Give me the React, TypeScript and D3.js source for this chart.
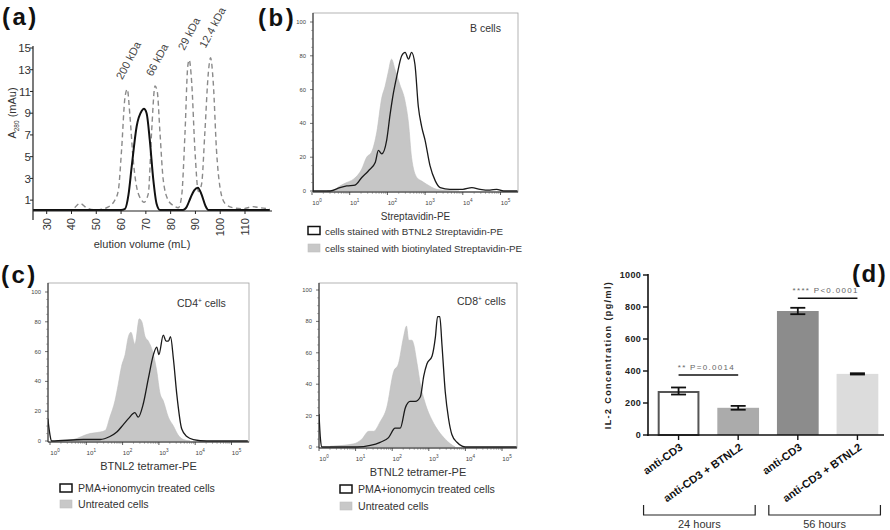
import React from 'react';
import * as d3 from 'd3';

const FONT = 'Arial, "Liberation Sans", Helvetica, sans-serif';

// ---------- (a) size-exclusion chromatogram ----------
const aXTicks = [30, 40, 50, 60, 70, 80, 90, 100, 110];
const aYTicks = [1, 3, 5, 7, 9, 11, 13, 15];
const sampleTrace: [number, number][] = [
  [24.5, 0.1], [40, 0.1], [55, 0.1], [60, 0.1], [61.6, 0.2], [63, 1.5], [64.3, 4.1], [66.3, 7.8],
  [68.3, 9.2], [69.2, 9.4], [70.3, 9.0], [71.6, 6.5], [73, 2.9], [74.3, 0.7], [75.7, 0.1],
  [85, 0.1], [86.5, 0.4], [88, 1.2], [89.5, 1.9], [91, 2.15], [92.5, 1.5], [94, 0.5], [95.2, 0.1], [120, 0.1]
];
const standardsTrace: [number, number][] = [
  [24.5, 0.1], [40, 0.1], [43.4, 0.7], [46.1, 0.3], [50, 0.1], [54.2, 0.3], [57.5, 1.0], [58.9, 1.9],
  [60.2, 5.6], [61.6, 10.5], [62.5, 11.2], [63.6, 8.7], [64.9, 4.7], [66.3, 2.2], [68.3, 1.0], [69.2, 0.8],
  [71, 1.6], [72.3, 7.2], [73.7, 11.5], [74.6, 11.0], [75.7, 7.2], [77, 2.9], [79, 1.0], [81.1, 0.5],
  [83.1, 0.3], [84.4, 1.3], [85.8, 7.2], [86.9, 13.3], [87.5, 13.9], [88.5, 11.8], [89.8, 5.6],
  [91.2, 1.8], [92.5, 2.5], [93.8, 7.2], [95.2, 12.7], [96.1, 14.1], [97.2, 11.8], [98.5, 5.6],
  [99.9, 2.2], [101.9, 0.7], [105.2, 0.3], [109, 0.2], [113.2, 0.4], [116, 0.3], [120, 0.2]
];
const standardLabels = ['200 kDa', '66 kDa', '29 kDa', '12.4 kDa'];
const standardPeakVol = [62.5, 74.6, 87.5, 96.1];
const standardPeakAbs = [11.2, 11.5, 13.9, 14.1];

// ---------- flow cytometry histograms (x: log10 intensity, y: % of max) ----------
const flowDecades = [0, 1, 2, 3, 4, 5];
const flowYTicks = [0, 20, 40, 60, 80, 100];

const bGray: [number, number][] = [
  [0.4, 0], [0.57, 0.5], [0.74, 3], [0.92, 5], [1.1, 7], [1.32, 13], [1.45, 20], [1.58, 23], [1.72, 35],
  [1.85, 55], [1.94, 62], [2.02, 70], [2.11, 78], [2.2, 72], [2.33, 63], [2.47, 53], [2.56, 40],
  [2.64, 20], [2.78, 8], [2.9, 6], [3.04, 4], [3.31, 1], [3.6, 0.3], [3.9, 0]
];
const bBlack: [number, number][] = [
  [0.0, 100], [0.03, 0], [0.48, 0], [0.74, 2], [0.92, 3], [1.14, 3.5], [1.32, 8], [1.5, 12],
  [1.68, 17], [1.76, 24], [1.85, 22], [1.98, 30], [2.07, 45], [2.16, 58], [2.25, 68], [2.38, 80],
  [2.47, 82], [2.56, 78], [2.64, 82], [2.73, 75], [2.82, 50], [2.91, 38], [3.0, 30], [3.13, 15],
  [3.27, 6], [3.4, 2], [3.66, 1], [4.0, 1], [4.24, 2], [4.46, 1], [4.72, 0.5], [4.9, 1], [5.08, 0], [5.45, 0]
];
const cd4Gray: [number, number][] = [
  [0.28, 0], [0.64, 1], [1.1, 5], [1.38, 6], [1.52, 7], [1.65, 16], [1.79, 27], [1.88, 38], [1.97, 50],
  [2.07, 58], [2.16, 70], [2.23, 73], [2.34, 65], [2.46, 82], [2.53, 80], [2.62, 70], [2.71, 67],
  [2.85, 58], [2.94, 47], [3.03, 32], [3.12, 27], [3.26, 16], [3.4, 10], [3.53, 4], [3.67, 1], [3.86, 0]
];
const cd4Black: [number, number][] = [
  [-0.06, 15], [0.0, 4], [0.04, 0], [0.92, 1], [1.38, 1], [1.65, 3], [1.84, 6], [2.02, 11], [2.16, 15],
  [2.34, 19], [2.43, 16], [2.57, 25], [2.71, 42], [2.85, 58], [2.94, 63], [3.0, 58], [3.12, 71],
  [3.2, 67], [3.26, 67], [3.32, 70], [3.4, 55], [3.49, 32], [3.63, 8], [3.77, 3], [3.95, 1], [4.32, 0], [5.45, 0]
];
const cd8Gray: [number, number][] = [
  [0.31, 0.5], [0.95, 2], [1.17, 5], [1.36, 10], [1.49, 10], [1.67, 16], [1.85, 25], [2.04, 48],
  [2.17, 53], [2.31, 70], [2.39, 77], [2.45, 68], [2.54, 68], [2.58, 66], [2.68, 53], [2.77, 40],
  [2.9, 28], [3.09, 17], [3.27, 10], [3.45, 5], [3.59, 2], [3.72, 0]
];
const cd8Black: [number, number][] = [
  [0.0, 21], [0.04, 5], [0.08, 0], [1.04, 0], [1.4, 1], [1.67, 3], [1.9, 6], [2.08, 12], [2.22, 12],
  [2.36, 25], [2.49, 29], [2.63, 29], [2.77, 32], [2.86, 45], [2.95, 53], [3.09, 58], [3.18, 70],
  [3.24, 83], [3.3, 83], [3.36, 65], [3.45, 35], [3.54, 18], [3.63, 8], [3.77, 3], [3.91, 0.5], [4.0, 0], [5.4, 0]
];

// ---------- (d) IL-2 bar chart ----------
const dCategories = ['anti-CD3', 'anti-CD3 + BTNL2', 'anti-CD3', 'anti-CD3 + BTNL2'];
const il2Mean = [275, 170, 775, 382];
const il2Err = [22, 12, 20, 4];
const dYTicks = [0, 200, 400, 600, 800, 1000];
const sigLabels = ['** P=0.0014', '**** P<0.0001'];
const sigLevels = [375, 855];
const groupLabels = ['24 hours', '56 hours'];

const barStyles = [
  { fill: '#ffffff', stroke: '#555555', sw: 2 },
  { fill: '#ababab', stroke: 'none', sw: 0 },
  { fill: '#8c8c8c', stroke: 'none', sw: 0 },
  { fill: '#dcdcdc', stroke: 'none', sw: 0 },
];

type Pt = [number, number];

function PanelA() {
  const x = d3.scaleLinear().domain([30, 110]).range([46.7, 245]);
  const y = d3.scaleLinear().domain([0, 15]).range([211, 48]);
  const line = d3.line<Pt>().x(d => x(d[0])).y(d => y(d[1])).curve(d3.curveMonotoneX);
  return (
    <g>
      <path d={line(standardsTrace) || ''} fill="none" stroke="#8a8a8a" strokeWidth={1.4} strokeDasharray="5,3.5" />
      <path d={line(sampleTrace) || ''} fill="none" stroke="#111" strokeWidth={2} />
      <line x1={33} x2={33} y1={46} y2={220} stroke="#222" strokeWidth={1.2} />
      <line x1={33} x2={272} y1={211} y2={211} stroke="#222" strokeWidth={1.2} />
      {aYTicks.map(t => (
        <g key={t}>
          <line x1={30} x2={33} y1={y(t)} y2={y(t)} stroke="#222" />
          <text x={31} y={y(t)} dy="0.36em" textAnchor="end" fontSize={11.5} fill="#333">{t}</text>
        </g>
      ))}
      {aXTicks.map(t => (
        <g key={t}>
          <line x1={x(t)} x2={x(t)} y1={211} y2={214} stroke="#222" />
          <text transform={`translate(${x(t) + 4},218) rotate(-90)`} textAnchor="end" fontSize={11} fill="#333">{t}</text>
        </g>
      ))}
      {standardLabels.map((s, i) => (
        <text key={s} transform={`translate(${x(standardPeakVol[i]) - 5},${y(standardPeakAbs[i]) - 9}) rotate(-62)`}
          fontSize={11} fill="#444">{s}</text>
      ))}
      <text x={142} y={248} textAnchor="middle" fontSize={11} fill="#333">elution volume (mL)</text>
      <text transform="translate(16,113) rotate(-90)" textAnchor="middle" fontSize={11} fill="#333">
        A<tspan fontSize={6.5} dy={3}>280</tspan><tspan dy={-3}> (mAu)</tspan>
      </text>
    </g>
  );
}

type FlowCfg = {
  id: string; x0: number; dec: number; left: number; right: number; top: number; y0: number; y100: number;
};

function FlowPanel(props: {
  cfg: FlowCfg; gray: Pt[]; black: Pt[]; tag: React.ReactNode; tagX: number; tagY: number;
  xTitle: string; titleFont: number; legend: string[]; legX: number; legY: number[]; legFont: number; legTextX: number;
}) {
  const { cfg, gray, black } = props;
  const lo = Math.pow(10, (cfg.left - cfg.x0) / cfg.dec);
  const hi = Math.pow(10, (cfg.right - cfg.x0) / cfg.dec);
  const x = d3.scaleLog().domain([lo, hi]).range([cfg.left, cfg.right]);
  const y = d3.scaleLinear().domain([0, 100]).range([cfg.y0, cfg.y100]);
  const bottom = cfg.y0 + 1;
  const area = d3.area<Pt>().x(d => x(Math.pow(10, d[0]))).y0(y(0)).y1(d => y(d[1])).curve(d3.curveMonotoneX);
  const line = d3.line<Pt>().x(d => x(Math.pow(10, d[0]))).y(d => y(d[1])).curve(d3.curveMonotoneX);
  const minors: number[] = [];
  for (let k = 0; k < 5; k++) for (let m = 2; m <= 9; m++) minors.push(m * Math.pow(10, k));
  const yMinors = d3.range(0, 101, 5).filter(v => v % 20 !== 0);
  return (
    <g>
      <defs>
        <clipPath id={`clip-${cfg.id}`}>
          <rect x={cfg.left} y={cfg.top} width={cfg.right - cfg.left} height={bottom - cfg.top} />
        </clipPath>
      </defs>
      <rect x={cfg.left} y={cfg.top} width={cfg.right - cfg.left} height={bottom - cfg.top} fill="#fff" stroke="#a0a0a0" strokeWidth={0.8} />
      <g clipPath={`url(#clip-${cfg.id})`}>
        <path d={area(gray) || ''} fill="#c6c6c6" stroke="#bdbdbd" strokeWidth={0.6} />
        <path d={line(black) || ''} fill="none" stroke="#1a1a1a" strokeWidth={1.3} />
      </g>
      <line x1={cfg.left} x2={cfg.left} y1={cfg.top} y2={bottom} stroke="#222" strokeWidth={1} />
      <line x1={cfg.left} x2={cfg.right} y1={bottom} y2={bottom} stroke="#222" strokeWidth={1} />
      {flowYTicks.map(t => (
        <g key={t}>
          <line x1={cfg.left - 3} x2={cfg.left} y1={y(t)} y2={y(t)} stroke="#333" strokeWidth={0.7} />
          <text x={cfg.left - 7} y={y(t)} dy="0.35em" textAnchor="end" fontSize={5.8} fill="#444">{t}</text>
        </g>
      ))}
      {yMinors.map(t => (
        <line key={t} x1={cfg.left - 1.8} x2={cfg.left} y1={y(t)} y2={y(t)} stroke="#555" strokeWidth={0.5} />
      ))}
      {flowDecades.map(k => {
        const px = x(Math.pow(10, k));
        return (
          <g key={k}>
            <line x1={px} x2={px} y1={bottom} y2={bottom + 3} stroke="#333" strokeWidth={0.8} />
            <text x={px + 5} y={bottom + 13} textAnchor="middle" fontSize={6.2} fill="#444">
              10<tspan fontSize={4.6} dy={-3}>{k}</tspan>
            </text>
          </g>
        );
      })}
      {minors.map(v => (
        <line key={v} x1={x(v)} x2={x(v)} y1={bottom} y2={bottom + 1.8} stroke="#555" strokeWidth={0.5} />
      ))}
      <text x={props.tagX} y={props.tagY} fontSize={10.5} fill="#333">{props.tag}</text>
      <text x={(cfg.left + cfg.right) / 2} y={bottom + 28} textAnchor="middle" fontSize={props.titleFont} fill="#333">{props.xTitle}</text>
      <rect x={props.legX} y={props.legY[0] - 8} width={12} height={8} fill="#fff" stroke="#111" strokeWidth={1.5} />
      <text x={props.legTextX} y={props.legY[0]} fontSize={props.legFont} fill="#333">{props.legend[0]}</text>
      <rect x={props.legX} y={props.legY[1] - 8} width={12} height={8} fill="#c8c8c8" stroke="#c0c0c0" strokeWidth={0.6} />
      <text x={props.legTextX} y={props.legY[1]} fontSize={props.legFont} fill="#333">{props.legend[1]}</text>
    </g>
  );
}

function PanelD() {
  const idx = dCategories.map((_, i) => String(i));
  const x = d3.scaleBand<string>().domain(idx).range([648, 888]).paddingInner(0.3).paddingOuter(0.1626);
  const y = d3.scaleLinear().domain([0, 1000]).range([435, 275]);
  const bw = x.bandwidth();
  const cx = (i: number) => (x(String(i)) as number) + bw / 2;
  const pairs = [[0, 1], [2, 3]];
  return (
    <g>
      {il2Mean.map((v, i) => {
        const st = barStyles[i];
        const inset = st.sw / 2;
        return (
          <rect key={i} x={(x(String(i)) as number) + inset} y={y(v) + inset} width={bw - 2 * inset}
            height={y(0) - y(v) - inset} fill={st.fill} stroke={st.stroke} strokeWidth={st.sw} />
        );
      })}
      {il2Mean.map((v, i) => (
        <g key={i} stroke="#111" strokeWidth={1.8}>
          <line x1={cx(i)} x2={cx(i)} y1={y(v - il2Err[i])} y2={y(v + il2Err[i])} />
          <line x1={cx(i) - 7.5} x2={cx(i) + 7.5} y1={y(v + il2Err[i])} y2={y(v + il2Err[i])} />
          <line x1={cx(i) - 7.5} x2={cx(i) + 7.5} y1={y(v - il2Err[i])} y2={y(v - il2Err[i])} />
        </g>
      ))}
      <line x1={648} x2={648} y1={274} y2={436} stroke="#111" strokeWidth={1.6} />
      <line x1={647} x2={884} y1={435} y2={435} stroke="#111" strokeWidth={1.6} />
      {dYTicks.map(t => (
        <g key={t}>
          <line x1={643} x2={648} y1={y(t)} y2={y(t)} stroke="#111" strokeWidth={1.4} />
          <text x={641} y={y(t)} dy="0.35em" textAnchor="end" fontSize={9} fontWeight="bold" fill="#222" letterSpacing={0.3}>{t}</text>
        </g>
      ))}
      <text transform="translate(611,355) rotate(-90)" textAnchor="middle" fontSize={9} fontWeight="bold" fill="#222" letterSpacing={1.4}>
        IL-2 Concentration (pg/ml)
      </text>
      {dCategories.map((c, i) => (
        <g key={i}>
          <line x1={cx(i)} x2={cx(i)} y1={435} y2={440} stroke="#111" strokeWidth={1.4} />
          <text transform={`translate(${cx(i) + 5},449) rotate(-35)`} textAnchor="end" fontSize={11} fontWeight="bold" fill="#111">{c}</text>
        </g>
      ))}
      {pairs.map((pair, gi) => {
        const l = gi === 0 ? cx(pair[0]) - 35 : cx(pair[0]) - 29;
        const r = gi === 0 ? cx(pair[1]) + 17 : cx(pair[1]) + 23;
        const sy = y(sigLevels[gi]);
        return (
          <g key={gi}>
            <line x1={cx(pair[0])} x2={cx(pair[1])} y1={sy} y2={sy} stroke="#111" strokeWidth={1.6} />
            <text x={(cx(pair[0]) + cx(pair[1])) / 2 - 2} y={sy - 5.5} textAnchor="middle" fontSize={8} fill="#666" letterSpacing={1.3}>{sigLabels[gi]}</text>
            <path d={`M${l},505 V515 H${r} V505`} fill="none" stroke="#222" strokeWidth={1.2} />
            <text x={(l + r) / 2} y={528} textAnchor="middle" fontSize={11} fill="#333">{groupLabels[gi]}</text>
          </g>
        );
      })}
    </g>
  );
}

const tagStyle = { fontSize: 24, fontWeight: 'bold' as const, fill: '#111', letterSpacing: 2.5 };

export default function App() {
  return (
    <svg width={890} height={530} viewBox="0 0 890 530" fontFamily={FONT}
      style={{ position: 'absolute', left: 0, top: 0, background: '#fff' }}>
      <rect width={890} height={530} fill="#fff" />
      <PanelA />
      <FlowPanel
        cfg={{ id: 'b', x0: 312, dec: 37.7, left: 313, right: 518, top: 13, y0: 191, y100: 22 }}
        gray={bGray} black={bBlack} tag="B cells" tagX={470} tagY={32}
        xTitle="Streptavidin-PE" titleFont={10}
        legend={['cells stained with BTNL2 Streptavidin-PE', 'cells stained with biotinylated Streptavidin-PE']}
        legX={308} legY={[234.5, 252]} legFont={9.8} legTextX={325}
      />
      <FlowPanel
        cfg={{ id: 'cd4', x0: 50, dec: 36.3, left: 48, right: 249, top: 283, y0: 441, y100: 292 }}
        gray={cd4Gray} black={cd4Black}
        tag={<>CD4<tspan fontSize={6.5} dy={-4}>+</tspan><tspan dy={4}> cells</tspan></>} tagX={177} tagY={306.5}
        xTitle="BTNL2 tetramer-PE" titleFont={11}
        legend={['PMA+ionomycin treated cells', 'Untreated cells']}
        legX={60} legY={[492, 508]} legFont={10.6} legTextX={78}
      />
      <FlowPanel
        cfg={{ id: 'cd8', x0: 319, dec: 36.6, left: 319, right: 517, top: 283, y0: 447, y100: 290 }}
        gray={cd8Gray} black={cd8Black}
        tag={<>CD8<tspan fontSize={6.5} dy={-4}>+</tspan><tspan dy={4}> cells</tspan></>} tagX={457} tagY={305}
        xTitle="BTNL2 tetramer-PE" titleFont={11}
        legend={['PMA+ionomycin treated cells', 'Untreated cells']}
        legX={340} legY={[493, 510]} legFont={10.6} legTextX={358}
      />
      <PanelD />
      <text x={2} y={25} {...tagStyle}>(a)</text>
      <text x={258} y={26} {...tagStyle}>(b)</text>
      <text x={1} y={283} {...tagStyle}>(c)</text>
      <text x={852} y={282} {...tagStyle} letterSpacing={1.5}>(d)</text>
    </svg>
  );
}
